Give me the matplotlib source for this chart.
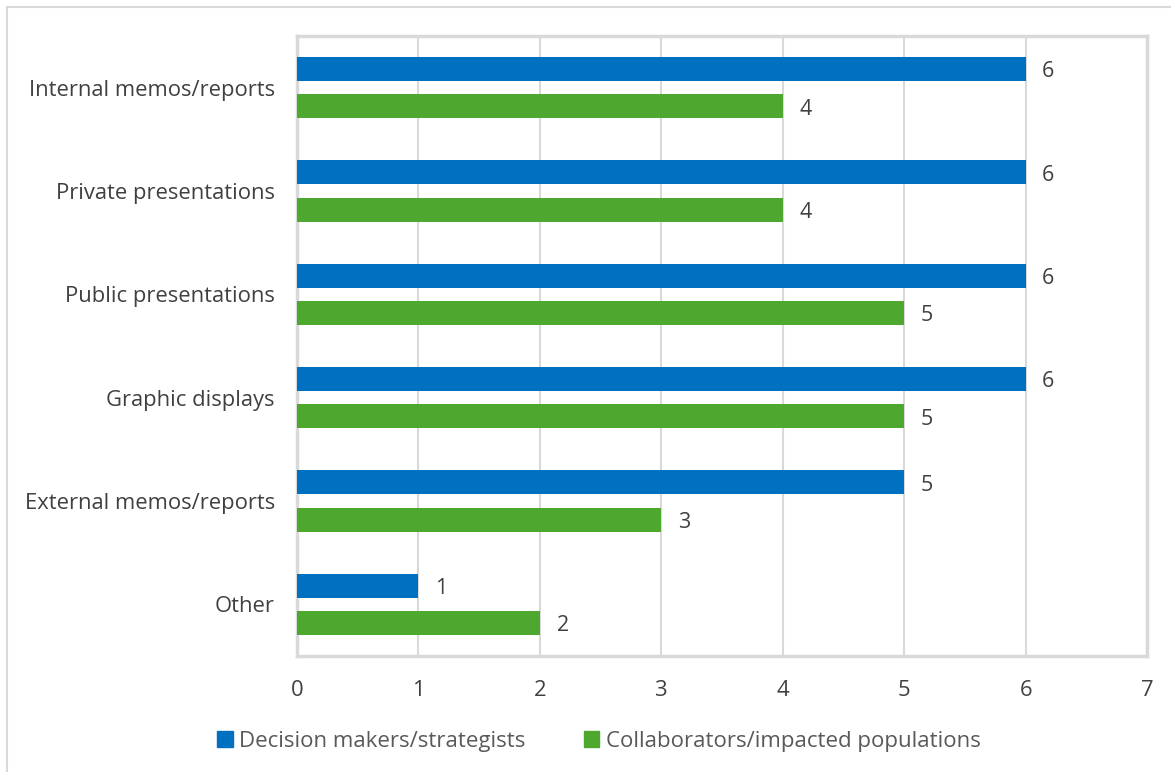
import matplotlib.pyplot as plt
from matplotlib.lines import Line2D
from matplotlib.patches import Patch

categories = ['Internal memos/reports', 'Private presentations', 'Public presentations',
              'Graphic displays', 'External memos/reports', 'Other']
decision_makers = [6, 6, 6, 6, 5, 1]
collaborators = [4, 4, 5, 5, 3, 2]
series_names = ['Decision makers/strategists', 'Collaborators/impacted populations']

BLUE = '#0070C0'
GREEN = '#4EA72E'
GRID = '#D9D9D9'
TEXT = '#404040'

plt.rcParams['font.family'] = ['Open Sans', 'DejaVu Sans']

fig = plt.figure(figsize=(11.71, 7.72), dpi=100)
ax = fig.add_axes([297 / 1171, 1 - 656 / 772, 850 / 1171, 620 / 772])

pos = list(range(len(categories)))
h = 0.232
off = 0.18
ax.barh([p - off for p in pos], decision_makers, height=h, color=BLUE, zorder=3)
ax.barh([p + off for p in pos], collaborators, height=h, color=GREEN, zorder=3)

for p, v in zip(pos, decision_makers):
    ax.annotate(str(v), (v, p - off), xytext=(12, -2), textcoords='offset points',
                va='center', ha='left', fontsize=15.5, color=TEXT)
for p, v in zip(pos, collaborators):
    ax.annotate(str(v), (v, p + off), xytext=(12, -2), textcoords='offset points',
                va='center', ha='left', fontsize=15.5, color=TEXT)

ax.set_xlim(0, 7)
ax.set_ylim(len(categories) - 0.5, -0.5)
ax.set_xticks(range(8))
ax.set_yticks(pos)
ax.set_yticklabels(categories)
ax.tick_params(axis='both', length=0, labelsize=15.8, labelcolor=TEXT)
ax.tick_params(axis='x', pad=17)
ax.tick_params(axis='y', pad=16)
ax.grid(axis='x', color=GRID, linewidth=1.5, zorder=0)
for s in ax.spines.values():
    s.set_color(GRID)
    s.set_linewidth(2.5)

handles = [Patch(color=BLUE), Patch(color=GREEN)]
fig.legend(handles, series_names, loc='center', bbox_to_anchor=(0.5115, 1 - 741 / 772),
           ncol=2, frameon=False, fontsize=16, labelcolor='#595959',
           handlelength=0.7, handleheight=0.7, handletextpad=0.3, columnspacing=2.6)

# thin frame around the chart area
fig.add_artist(Line2D([7 / 1171, 7 / 1171], [0, 1 - 7 / 772], color=GRID, linewidth=1.5))
fig.add_artist(Line2D([7 / 1171, 1], [1 - 7 / 772, 1 - 7 / 772], color=GRID, linewidth=1.5))

fig.savefig('out.png', dpi=100)
